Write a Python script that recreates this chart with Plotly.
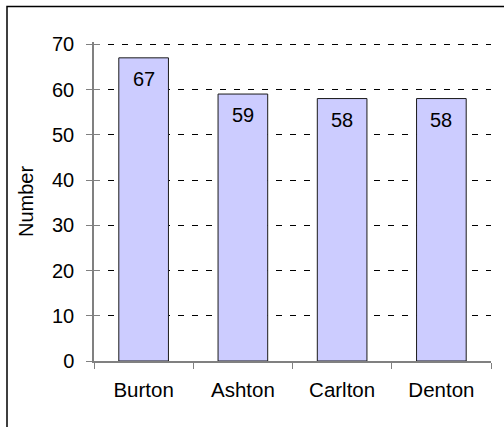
import plotly.graph_objects as go

# Counts per town
towns = ["Burton", "Ashton", "Carlton", "Denton"]
counts = [67, 59, 58, 58]
y_ticks = [0, 10, 20, 30, 40, 50, 60, 70]

FONT = "Liberation Sans, Arial, sans-serif"
Y_RANGE = [0, 70.5]  # a little headroom so the top gridline is drawn

fig = go.Figure()
fig.add_trace(go.Bar(
    x=towns,
    y=counts,
    width=0.5,
    marker=dict(color="#CCCCFF", line=dict(color="#1a1a1a", width=1)),
    showlegend=False,
    hoverinfo="x+y",
))

# value labels sitting just inside the top of each bar
for t, v in zip(towns, counts):
    fig.add_annotation(
        x=t, y=v, text=str(v), showarrow=False,
        yanchor="top", yshift=-8,
        font=dict(family=FONT, size=20, color="black"),
    )

fig.update_layout(
    width=504, height=427,
    margin=dict(l=94, r=13, t=42, b=66),
    paper_bgcolor="white",
    plot_bgcolor="white",
    font=dict(family=FONT, size=20, color="black"),
    bargap=0.5,
    xaxis=dict(
        showline=True, linecolor="#808080", linewidth=1.5,
        ticks="outside", ticklen=6, tickcolor="#808080",
        tickson="boundaries",
        showgrid=False,
        tickfont=dict(size=20.5),
        ticklabelstandoff=10,
    ),
    yaxis=dict(
        range=Y_RANGE,
        tickvals=y_ticks,
        showline=True, linecolor="#808080", linewidth=1.5,
        ticks="outside", ticklen=6, tickcolor="#808080",
        showgrid=True, gridcolor="black", gridwidth=1, griddash="6px,8px",
        zeroline=False,
        tickfont=dict(size=20),
        ticklabelstandoff=8,
        title=dict(text="Number", font=dict(size=20), standoff=13),
    ),
    # second y axis carries the inward half of the crossing tick marks
    yaxis2=dict(
        overlaying="y", side="left", range=Y_RANGE, tickvals=y_ticks,
        ticks="inside", ticklen=6, tickcolor="#808080",
        showticklabels=False, showgrid=False, zeroline=False, showline=False,
    ),
)
fig.add_trace(go.Scatter(x=[], y=[], yaxis="y2", showlegend=False))

# outer chart frame (runs off the right and bottom edges)
fig.add_shape(
    type="rect", xref="paper", yref="paper",
    x0=(7 - 94) / (504 - 94 - 13), x1=1.1,
    y0=-0.3, y1=1 + (42 - 6.5) / (427 - 42 - 66),
    line=dict(color="black", width=1.5), layer="below",
)

fig.write_html("out.html")
